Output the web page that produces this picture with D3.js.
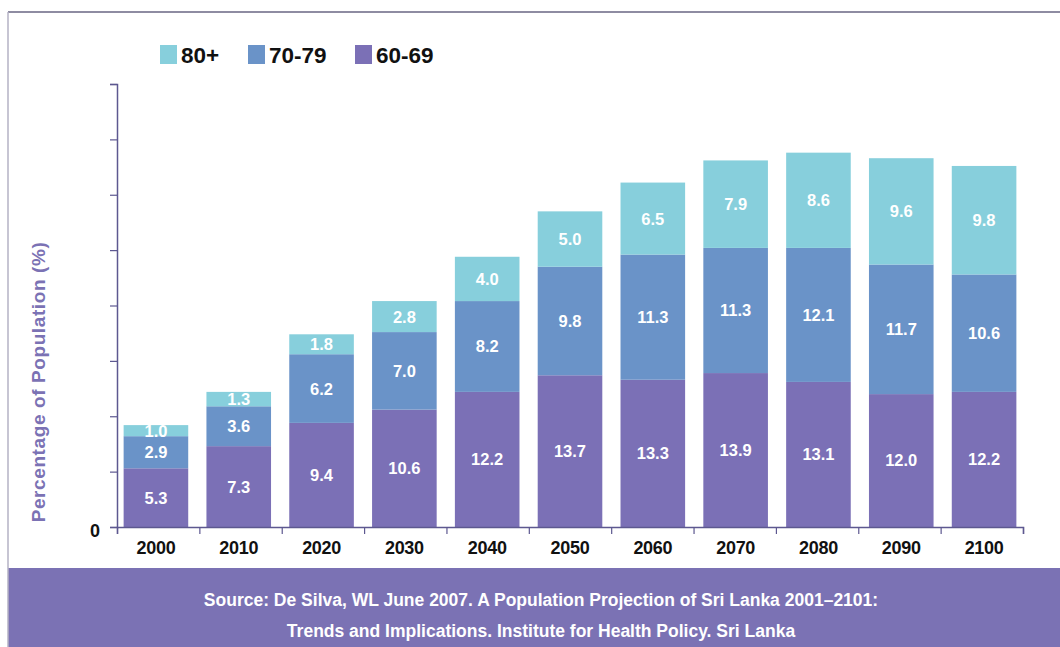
<!DOCTYPE html>
<html>
<head>
<meta charset="utf-8">
<script src="https://cdn.jsdelivr.net/npm/d3@7"></script>
<style>
  html, body { margin: 0; padding: 0; background: #ffffff; }
  svg { display: block; font-family: "Liberation Sans", Arial, sans-serif; }
</style>
</head>
<body>
<svg id="chart" width="1060" height="647"></svg>
<script>
// Population aged 60+ in Sri Lanka, by age group (% of total population)
const years = ["2000", "2010", "2020", "2030", "2040", "2050", "2060", "2070", "2080", "2090", "2100"];
const age60to69 = [5.3, 7.3, 9.4, 10.6, 12.2, 13.7, 13.3, 13.9, 13.1, 12.0, 12.2];
const age70to79 = [2.9, 3.6, 6.2, 7.0, 8.2, 9.8, 11.3, 11.3, 12.1, 11.7, 10.6];
const age80plus = [1.0, 1.3, 1.8, 2.8, 4.0, 5.0, 6.5, 7.9, 8.6, 9.6, 9.8];
const seriesKeys = ["60-69", "70-79", "80+"];
const legendOrder = ["80+", "70-79", "60-69"];
const yTicks = [0, 5, 10, 15, 20, 25, 30, 35, 40];
const sourceLines = [
  "Source: De Silva, WL June 2007. A Population Projection of Sri Lanka 2001\u20132101:",
  "Trends and Implications. Institute for Health Policy. Sri Lanka"
];

const colors = { "60-69": "#7b70b6", "70-79": "#6a93c8", "80+": "#87cfdc" };
const accent = "#7b72b4";
const axisColor = "#5d5890";

const rows = years.map((y, i) => ({
  year: y, "60-69": age60to69[i], "70-79": age70to79[i], "80+": age80plus[i]
}));

const svg = d3.select("#chart");
const W = 1060, H = 647;
const plot = { left: 117, right: 1023, top: 84, bottom: 527 };

// Frame and footer band
svg.append("rect").attr("x", 8).attr("y", 568).attr("width", W - 8).attr("height", H - 568).attr("fill", accent);
svg.append("line").attr("x1", 8).attr("x2", W).attr("y1", 12).attr("y2", 12)
  .attr("stroke", "#8e8ca2").attr("stroke-width", 2);
svg.append("line").attr("x1", 8).attr("x2", 8).attr("y1", 12).attr("y2", H)
  .attr("stroke", "#b4b2c4").attr("stroke-width", 1.5);

// Scales
const x = d3.scaleBand().domain(years).range([plot.left, plot.right])
  .paddingInner(0.22).paddingOuter(0.08);
const edges = d3.scaleLinear().domain([0, years.length]).range([plot.left, plot.right]);
const y = d3.scaleLinear().domain([0, 40]).range([plot.bottom, plot.top]);

// Stacked bars
const stacked = d3.stack().keys(seriesKeys)(rows);
const layers = svg.append("g").selectAll("g").data(stacked).join("g")
  .attr("fill", d => colors[d.key]);
layers.selectAll("rect").data(d => d).join("rect")
  .attr("x", d => x(d.data.year))
  .attr("width", x.bandwidth())
  .attr("y", d => y(d[1]))
  .attr("height", d => y(d[0]) - y(d[1]));

// Value labels centred in each segment
const labels = svg.append("g");
stacked.forEach(layer => {
  labels.selectAll(null).data(layer).join("text")
    .attr("x", d => x(d.data.year) + x.bandwidth() / 2)
    .attr("y", d => (y(d[0]) + y(d[1])) / 2)
    .attr("dy", "0.36em")
    .attr("text-anchor", "middle")
    .attr("fill", "#ffffff")
    .attr("font-weight", "bold")
    .attr("font-size", 16.5)
    .text(d => d3.format(".1f")(d.data[layer.key]));
});

// Y axis: ticks every 5, only zero labelled
const yAxis = svg.append("g").attr("transform", `translate(${plot.left},0)`)
  .call(d3.axisLeft(y).tickValues(yTicks).tickSize(7).tickPadding(10)
    .tickFormat(d => d === 0 ? "0" : ""));
yAxis.select(".domain").attr("stroke", axisColor).attr("stroke-width", 1.5);
yAxis.selectAll(".tick line").attr("stroke", axisColor).attr("stroke-width", 1.2);
yAxis.selectAll(".tick text").attr("font-size", 18).attr("font-weight", "bold")
  .attr("fill", "#111").attr("dy", "0.55em");

// X axis: separator ticks between categories, year labels under bars
const xEdge = svg.append("g").attr("transform", `translate(0,${plot.bottom})`)
  .call(d3.axisBottom(edges).ticks(years.length).tickSize(7).tickFormat(""));
xEdge.select(".domain").attr("stroke", axisColor).attr("stroke-width", 1.5);
xEdge.selectAll(".tick line").attr("stroke", axisColor).attr("stroke-width", 1.2);

const xLab = svg.append("g").attr("transform", `translate(0,${plot.bottom})`)
  .call(d3.axisBottom(x).tickSize(0).tickPadding(14));
xLab.select(".domain").remove();
xLab.selectAll(".tick text").attr("font-size", 18).attr("font-weight", "bold")
  .attr("fill", "#111").attr("letter-spacing", "-0.3");

// Y axis title
svg.append("text")
  .attr("transform", "translate(45,382) rotate(-90)")
  .attr("text-anchor", "middle")
  .attr("fill", accent)
  .attr("font-weight", "bold")
  .attr("font-size", 19)
  .attr("letter-spacing", "0.6")
  .text("Percentage of Population (%)");

// Legend
const legend = svg.append("g").attr("transform", "translate(160,45)");
const legendX = [0, 88, 195];
legendOrder.forEach((k, i) => {
  const g = legend.append("g").attr("transform", `translate(${legendX[i]},0)`);
  g.append("rect").attr("width", 17).attr("height", 19).attr("fill", colors[k]);
  g.append("text").attr("x", 21).attr("y", 18)
    .attr("font-size", 22.5).attr("font-weight", "bold").attr("fill", "#111")
    .text(k);
});

// Source note in footer
svg.append("g").selectAll("text").data(sourceLines).join("text")
  .attr("x", 541)
  .attr("y", (d, i) => 606 + i * 31)
  .attr("text-anchor", "middle")
  .attr("fill", "#ffffff")
  .attr("font-weight", "bold")
  .attr("font-size", 17.5)
  .text(d => d);
</script>
</body>
</html>
